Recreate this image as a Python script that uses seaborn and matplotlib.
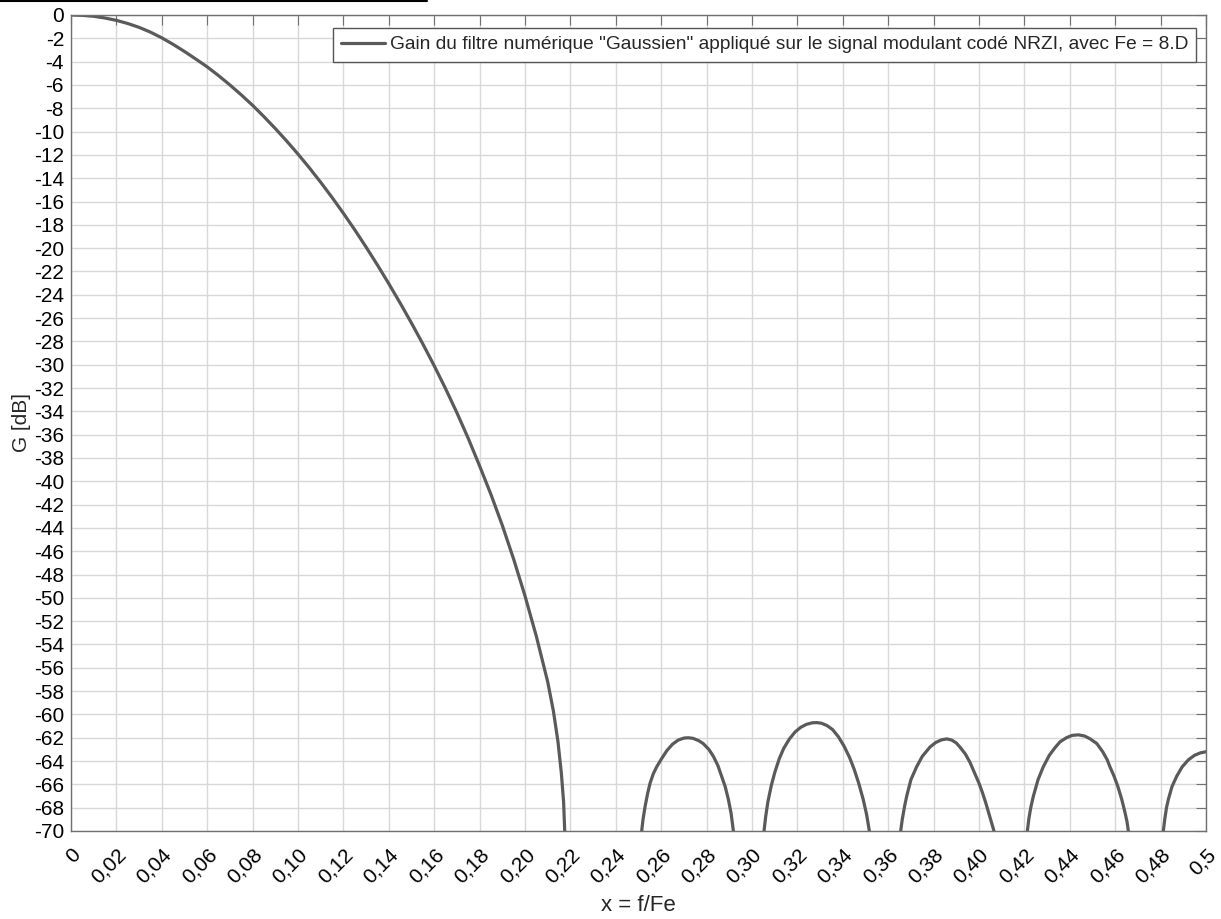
import pandas as pd
import seaborn as sns
import matplotlib.pyplot as plt
from matplotlib.lines import Line2D

# Gain (x = f/Fe, G en dB), lobe par lobe
x_lobe0 = [0, 0.005, 0.01, 0.015, 0.02, 0.025, 0.03, 0.035, 0.04, 0.045, 0.05, 0.055,
           0.06, 0.065, 0.07, 0.075, 0.08, 0.085, 0.09, 0.095, 0.10, 0.105, 0.11,
           0.115, 0.12, 0.125, 0.13, 0.135, 0.14, 0.145, 0.15, 0.155, 0.16, 0.165,
           0.17, 0.175, 0.18, 0.185, 0.19, 0.195, 0.20, 0.205, 0.21, 0.2125, 0.2145,
           0.216, 0.217, 0.2175]
g_lobe0 = [0, -0.03, -0.11, -0.26, -0.46, -0.73, -1.06, -1.47, -1.96, -2.52, -3.13, -3.78,
           -4.45, -5.2, -6.0, -6.85, -7.75, -8.72, -9.74, -10.81, -11.93, -13.11, -14.35,
           -15.65, -17.01, -18.43, -19.91, -21.45, -23.05, -24.71, -26.43, -28.22, -30.09,
           -32.05, -34.12, -36.32, -38.68, -41.13, -43.78, -46.68, -49.83, -53.3, -57.2,
           -59.7, -62.3, -65.0, -67.5, -70]

x_lobe1 = [0.2514, 0.2520, 0.2529, 0.2540, 0.2551, 0.2565, 0.2580, 0.2600, 0.2625,
           0.2650, 0.2675, 0.2700, 0.2719, 0.2740, 0.2765, 0.2785, 0.2810, 0.2830,
           0.2850, 0.2866, 0.2882, 0.2896, 0.2908, 0.2918]
g_lobe1 = [-70, -69.0, -67.9, -66.8, -65.9, -65.1, -64.5, -63.85, -63.1, -62.55, -62.2,
           -62.03, -62.0, -62.05, -62.25, -62.5, -63.0, -63.6, -64.4, -65.3, -66.2,
           -67.3, -68.5, -70]

x_lobe2 = [0.3053, 0.3060, 0.3070, 0.3085, 0.3100, 0.3120, 0.3140, 0.3165, 0.3190,
           0.3215, 0.3240, 0.3265, 0.3285, 0.3305, 0.3330, 0.3355, 0.3380, 0.3405,
           0.3430, 0.3450, 0.3470, 0.3490, 0.3505, 0.3517]
g_lobe2 = [-70, -68.8, -67.5, -66.1, -65.0, -63.8, -62.9, -62.1, -61.5, -61.1, -60.85,
           -60.72, -60.7, -60.75, -60.95, -61.3, -61.9, -62.7, -63.7, -64.7, -65.9,
           -67.3, -68.6, -70]

x_lobe3 = [0.3655, 0.3662, 0.3672, 0.3681, 0.3700, 0.3725, 0.3750, 0.3784, 0.3810,
           0.3835, 0.3858, 0.3880, 0.3900, 0.3916, 0.3940, 0.3960, 0.3980, 0.4000,
           0.4015, 0.4030, 0.4045, 0.4057, 0.4066]
g_lobe3 = [-70, -69.0, -67.9, -67.05, -65.6, -64.5, -63.6, -62.8, -62.4, -62.18, -62.1,
           -62.2, -62.45, -62.8, -63.4, -64.1, -65.0, -65.9, -66.7, -67.6, -68.6,
           -69.4, -70]

x_lobe4 = [0.4213, 0.4220, 0.4229, 0.4239, 0.4260, 0.4283, 0.4310, 0.4335, 0.4357,
           0.4385, 0.4410, 0.4438, 0.4465, 0.4490, 0.4519, 0.4545, 0.4565, 0.4577,
           0.4595, 0.4612, 0.4629, 0.4643, 0.4652, 0.4658]
g_lobe4 = [-70, -68.9, -67.9, -67.05, -65.6, -64.5, -63.5, -62.85, -62.35, -62.0, -61.8,
           -61.75, -61.85, -62.1, -62.5, -63.2, -63.9, -64.5, -65.3, -66.2, -67.3,
           -68.4, -69.2, -70]

x_lobe5 = [0.4812, 0.4819, 0.4826, 0.4834, 0.4850, 0.4871, 0.4895, 0.4922, 0.4950,
           0.4975, 0.5000]
g_lobe5 = [-70, -68.9, -68.0, -67.3, -66.2, -65.3, -64.5, -63.9, -63.5, -63.3, -63.2]

x_ticks = [i * 0.02 for i in range(25)] + [0.5]
x_ticklabels = ["0", "0,02", "0,04", "0,06", "0,08", "0,10", "0,12", "0,14", "0,16",
                "0,18", "0,20", "0,22", "0,24", "0,26", "0,28", "0,30", "0,32", "0,34",
                "0,36", "0,38", "0,40", "0,42", "0,44", "0,46", "0,48", "0,5"]
y_ticks = list(range(0, -71, -2))
y_ticklabels = [str(v) for v in y_ticks]

legend_text = ('Gain du filtre numérique "Gaussien" appliqué sur le signal '
               'modulant codé NRZI, avec Fe = 8.D')

lobes = [(x_lobe0, g_lobe0), (x_lobe1, g_lobe1), (x_lobe2, g_lobe2),
         (x_lobe3, g_lobe3), (x_lobe4, g_lobe4), (x_lobe5, g_lobe5)]
df = pd.concat([pd.DataFrame({"x": xs, "G": gs, "lobe": k})
                for k, (xs, gs) in enumerate(lobes)], ignore_index=True)

sns.set_theme(style="whitegrid")
plt.rcParams['font.family'] = ['Liberation Sans', 'DejaVu Sans']
plt.rcParams['axes.unicode_minus'] = False

line_color = "#5a5a5a"
axis_color = "#707070"

fig = plt.figure(figsize=(12.21, 9.19), dpi=100)
ax = fig.add_axes([71 / 1221, 1 - 831 / 919, 1135 / 1221, 816 / 919])

sns.lineplot(data=df, x="x", y="G", units="lobe", estimator=None,
             color=line_color, linewidth=2.3, ax=ax, legend=False)

ax.set_xlim(0, 0.5)
ax.set_ylim(-70, 0)
ax.set_xticks(x_ticks)
ax.set_xticklabels(x_ticklabels, rotation=45, ha='right', va='top',
                   rotation_mode='anchor')
ax.set_yticks(y_ticks)
ax.set_yticklabels(y_ticklabels)

ax.tick_params(direction='in', length=7, width=0.8, top=True, right=True,
               color=axis_color, labelcolor='black', labelsize=15)
ax.tick_params(axis='x', pad=10)
ax.tick_params(axis='y', pad=5)

ax.set_facecolor('white')
ax.grid(True, color='#d8d8d8', linewidth=1)
ax.set_axisbelow(True)
for sp in ax.spines.values():
    sp.set_visible(True)
    sp.set_color(axis_color)
    sp.set_linewidth(1)

ax.set_xlabel("x = f/Fe", fontsize=16, labelpad=6)
ax.set_ylabel("G [dB]", fontsize=15, labelpad=2)

handle = Line2D([], [], color=line_color, linewidth=2.3)
leg = ax.legend([handle], [legend_text], loc='upper right',
                bbox_to_anchor=(1125 / 1135, 1 - 13 / 816), borderaxespad=0,
                frameon=True, fancybox=False, framealpha=1, fontsize=13.8,
                handlelength=2.3, handletextpad=0.25, borderpad=0.42)
leg.get_frame().set_edgecolor('#555555')
leg.get_frame().set_linewidth(1)

# trait noir en haut à gauche de la capture
fig.add_artist(Line2D([0, 427 / 1221], [1 - 1 / 919, 1 - 1 / 919],
                      color='black', linewidth=1.5, transform=fig.transFigure))

fig.savefig("out.png", dpi=100, facecolor='white')
